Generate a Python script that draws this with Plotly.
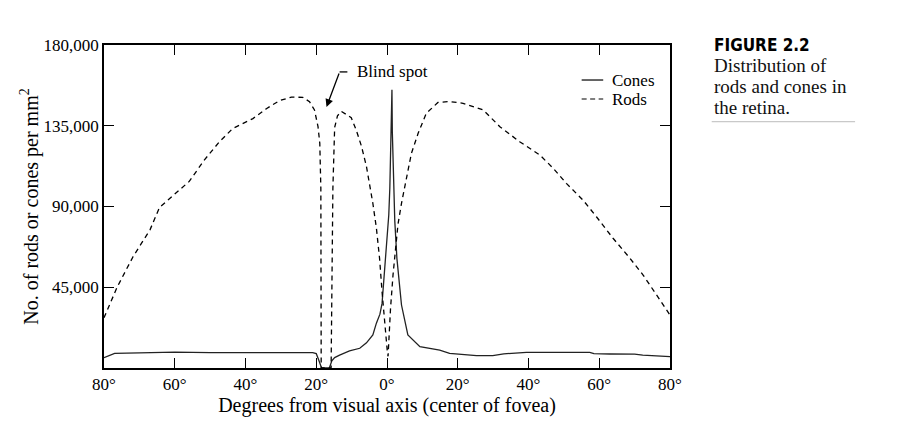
import plotly.graph_objects as go

# degrees from visual axis (negative = temporal side, left of fovea)
rods_deg = [-80, -76.3, -71.8, -67, -64.3, -59.6, -55.9, -51.6, -47.4, -43.6,
            -37.9, -34.1, -30.4, -27.0, -23.8, -21.9, -20.5, -19.5, -19.0, -18.7,
            -18.6, -15.8, -15.3, -14.8, -14.0, -12.9, -10.1, -8.7, -7.2, -5.8,
            -4.9, -4.0, -3.0, -2.1, -1.4, -0.65, 0.1, 0.3, 0.6, 1.0,
            1.7, 2.5, 3.1, 4.1, 5.5, 6.9, 8.8, 11.1, 14.4, 17.7,
            21.5, 27.2, 31.9, 37.5, 43.2, 47.0, 50.7, 55.4, 59.2, 63.9,
            68.7, 72.4, 76.2, 80]
rods_density = [28000, 45000, 62000, 77000, 89500, 97500, 104000, 116000, 126000, 133500,
                139000, 144500, 149000, 151000, 150800, 148400, 143800, 134500, 125200, 100000,
                0, 0, 100000, 134000, 140500, 143000, 139500, 132600, 123500, 112200,
                102900, 91800, 78000, 61100, 42500, 24000, 9000, 6500, 18400, 33300,
                51800, 70400, 80000, 91800, 106600, 119600, 130800, 141900, 148000, 148500,
                147500, 143800, 134500, 126100, 118700, 111300, 102900, 93600, 84300, 72300,
                61100, 51800, 40700, 29500]

cones_deg = [-80, -77, -70, -60, -50, -40, -30, -21, -20, -19.3,
             -18.5, -16.3, -15.6, -14.8, -13.4, -10.6, -7.7, -5.8, -4.0, -3.0,
             -2.0, -1.4, -0.4, 0.3, 0.5, 0.8, 1.2, 1.4, 1.5, 1.8,
             2.0, 2.2, 2.8, 4.1, 5.9, 9.3, 14.9, 17.7, 25.3, 29.9,
             33, 39.4, 57.3, 58.5, 63, 70, 72.3, 80]
cones_density = [5700, 8200, 8400, 8800, 8600, 8800, 8600, 8600, 8000, 4500,
                 0, 0, 4000, 5800, 7200, 9500, 11000, 14000, 18400, 25000,
                 30000, 36000, 61100, 78000, 85300, 100300, 128000, 155000, 132000, 115000,
                 100300, 82000, 61100, 35100, 18400, 11900, 10000, 8200, 6900, 6900,
                 7900, 8700, 8700, 8000, 7800, 7700, 7200, 6300]

x_tickvals = [-80, -60, -40, -20, 0, 20, 40, 60, 80]
x_ticktext = ["80°", "60°", "40°", "20°", "0°", "20°", "40°", "60°", "80°"]
y_tickvals = [45000, 90000, 135000, 180000]
y_ticktext = ["45,000", "90,000", "135,000", "180,000"]

serif = "Liberation Serif, Times New Roman, serif"

fig = go.Figure()

fig.add_trace(go.Scatter(
    x=cones_deg, y=cones_density, mode="lines", name="Cones",
    line=dict(color="#222222", width=1.3),
))
fig.add_trace(go.Scatter(
    x=rods_deg, y=rods_density, mode="lines", name="Rods",
    line=dict(color="black", width=1.3, dash="5px,4px"),
))

# hand-drawn legend, tighter than plotly's own
legend_names = ["Cones", "Rods"]
legend_dash = ["solid", "5px,3.5px"]
legend_y = [0.8916, 0.8328]
for name, dash, ly in zip(legend_names, legend_dash, legend_y):
    fig.add_shape(type="line", xref="paper", yref="paper", x0=0.8439, x1=0.8820,
                  y0=ly, y1=ly, line=dict(color="black", width=1.2, dash=dash))
    fig.add_annotation(xref="paper", yref="paper", x=0.8939, y=ly, text=name,
                       showarrow=False, xanchor="left", yanchor="middle",
                       font=dict(family=serif, size=17, color="black"))

# blind spot label with its leader line and arrow
fig.add_annotation(x=-9.1, y=165500, text="Blind spot", showarrow=False,
                   xanchor="left", yanchor="middle",
                   font=dict(family=serif, size=17, color="black"))
fig.add_annotation(x=-17.1, y=145500, ax=-13.4, ay=165000, axref="x", ayref="y",
                   text="", showarrow=True, arrowhead=2, arrowsize=1.2,
                   arrowwidth=1.3, arrowcolor="black")
fig.add_shape(type="line", x0=-13.4, x1=-11.2, y0=165000, y1=165000,
              line=dict(color="black", width=1.3))

# caption on the right
fig.add_annotation(xref="paper", yref="paper", x=1.0737, y=1.0, text="<b>FIGURE 2.2</b>",
                   showarrow=False, xanchor="left", yanchor="middle",
                   font=dict(family="DejaVu Sans Condensed, Liberation Sans Narrow, sans-serif",
                             size=17, color="black"))
caption_lines = ["Distribution of", "rods and cones in", "the retina."]
caption_y = [65, 86, 107]
for line_text, py in zip(caption_lines, caption_y):
    fig.add_annotation(xref="paper", yref="paper", x=1.0737, y=(368 - py) / 323,
                       text=line_text, showarrow=False, xanchor="left", yanchor="middle",
                       font=dict(family=serif, size=19, color="#111111"))
fig.add_shape(type="line", xref="paper", yref="paper", x0=1.0737, x1=1.327,
              y0=0.7625, y1=0.7625, line=dict(color="#bbbbbb", width=1))

# the page body adds an 8px offset, so margins are pulled in by that much
fig.update_layout(
    width=906,
    height=430,
    margin=dict(l=96, r=244, t=37, b=70),
    paper_bgcolor="white",
    plot_bgcolor="white",
    font=dict(family=serif, size=17, color="black"),
    showlegend=False,
    xaxis=dict(
        range=[-80, 80], automargin=False,
        tickvals=x_tickvals, ticktext=x_ticktext,
        ticks="inside", ticklen=10, tickwidth=1.2, tickcolor="black",
        showline=True, linecolor="black", linewidth=1.5, mirror="ticks",
        showgrid=False, zeroline=False,
        title=dict(text="Degrees from visual axis (center of fovea)", standoff=2),
    ),
    yaxis=dict(
        range=[0, 180000], automargin=False,
        tickvals=y_tickvals, ticktext=y_ticktext,
        ticks="inside", ticklen=10, tickwidth=1.2, tickcolor="black",
        showline=True, linecolor="black", linewidth=1.5, mirror="ticks",
        showgrid=False, zeroline=False,
        title=dict(text="No. of rods or cones per mm<sup>2</sup>", standoff=0),
    ),
)

fig.write_html("out.html")
